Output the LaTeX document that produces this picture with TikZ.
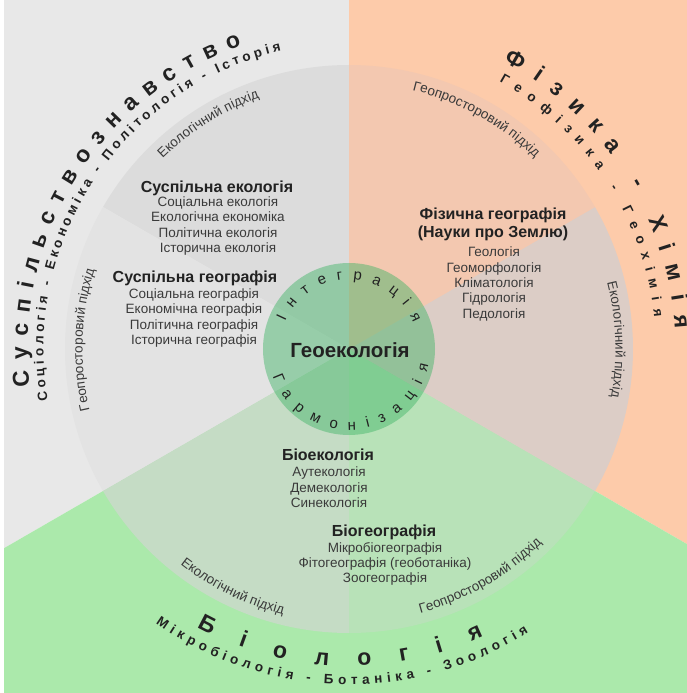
\documentclass[tikz,border=0pt]{standalone}
\usepackage{fontspec}
\setmainfont{Liberation Sans}
\usetikzlibrary{calc, positioning, decorations.text}

\definecolor{socgray}{HTML}{E8E8E8}
\definecolor{physpeach}{HTML}{FDCBAA}
\definecolor{biogreen}{HTML}{ABE9AB}
\definecolor{discA}{HTML}{DCDCDC}
\definecolor{discB}{HTML}{E3E3E3}
\definecolor{discC}{HTML}{C5DCC5}
\definecolor{discD}{HTML}{B8E2B8}
\definecolor{discE}{HTML}{DCCDC6}
\definecolor{discF}{HTML}{F3C8B0}
\definecolor{geogreen}{HTML}{3CB464}
\definecolor{txtdark}{HTML}{222222}
\definecolor{txtsub}{HTML}{3A3A3A}

\newcommand{\outerbig}{\fontsize{23}{27}\selectfont\bfseries}
\newcommand{\outersmall}{\fontsize{13.5}{16}\selectfont\bfseries}
\newcommand{\approachtxt}{\fontsize{13.5}{16}\selectfont}
\newcommand{\ringtxt}{\fontsize{15}{18}\selectfont}

\begin{document}
\begin{tikzpicture}[x=1pt, y=1pt,
  heading/.style={font=\fontsize{16}{19}\selectfont\bfseries, text=txtdark, inner sep=0pt},
  items/.style={font=\fontsize{13.5}{15.4}\selectfont, text=txtsub, align=center, inner sep=0pt}]
\useasboundingbox (-349,-344) rectangle (338,349);

% Three outer fields (120 degrees each)
\fill[socgray] (0,0) -- (0,349) -- (-349,349) -- (-349,-201.5) -- cycle;
\fill[physpeach] (0,0) -- (0,349) -- (338,349) -- (338,-195.1) -- cycle;
\fill[biogreen] (0,0) -- (-349,-201.5) -- (-349,-344) -- (338,-344) -- (338,-195.1) -- cycle;
\fill[white] (-349,-344) rectangle (-345,349);

% Approach disc, six parts
\fill[discA] (0,0) -- (90:284pt) arc[start angle=90, end angle=150, radius=284pt] -- cycle;
\fill[discB] (0,0) -- (150:284pt) arc[start angle=150, end angle=210, radius=284pt] -- cycle;
\fill[discC] (0,0) -- (210:284pt) arc[start angle=210, end angle=270, radius=284pt] -- cycle;
\fill[discD] (0,0) -- (270:284pt) arc[start angle=270, end angle=330, radius=284pt] -- cycle;
\fill[discE] (0,0) -- (330:284pt) arc[start angle=330, end angle=390, radius=284pt] -- cycle;
\fill[discF] (0,0) -- (30:284pt) arc[start angle=30, end angle=90, radius=284pt] -- cycle;

% Centre circle
\fill[geogreen, fill opacity=0.45] (0,0) circle[radius=86pt];

% Outer field titles
\path[decorate, decoration={text along path, text align={fit to path}, text color=txtdark,
  text={|\outerbig|Суспільствознавство}}]
  (186.7:321.5pt) arc[start angle=186.7, end angle=109.5, radius=321.5pt];
\path[decorate, decoration={text along path, text align={fit to path}, text color=txtdark,
  text={|\outersmall|Соціологія - Економіка - Політологія - Історія}}]
  (189.8:305.5pt) arc[start angle=189.8, end angle=102.9, radius=305.5pt];
\path[decorate, decoration={text along path, text align={fit to path}, text color=txtdark,
  text={|\outerbig|Фізика - Хімія}}]
  (61.7:326.5pt) arc[start angle=61.7, end angle=3.6, radius=326.5pt];
\path[decorate, decoration={text along path, text align={fit to path}, text color=txtdark,
  text={|\outersmall|Геофізика - Геохімія}}]
  (60.7:307pt) arc[start angle=60.7, end angle=5.9, radius=307pt];
\path[decorate, decoration={text along path, text align={fit to path}, text color=txtdark,
  text={|\outerbig|Біологія}}]
  (241.3:317pt) arc[start angle=241.3, end angle=295.1, radius=317pt];
\path[decorate, decoration={text along path, text align={fit to path}, text color=txtdark,
  text={|\outersmall|Мікробіологія - Ботаніка - Зоологія}}]
  (234.8:335.5pt) arc[start angle=234.8, end angle=302.3, radius=335.5pt];

% Approaches along the disc rim
\path[decorate, decoration={text along path, text align=center, text color=txtsub,
  text={|\approachtxt|Екологічний підхід}}]
  (162:266.5pt) arc[start angle=162, end angle=82, radius=266.5pt];
\path[decorate, decoration={text along path, text align=center, text color=txtsub,
  text={|\approachtxt|Геопросторовий підхід}}]
  (101:266.5pt) arc[start angle=101, end angle=21, radius=266.5pt];
\path[decorate, decoration={text along path, text align=center, text color=txtsub,
  text={|\approachtxt|Екологічний підхід}}]
  (42:266.5pt) arc[start angle=42, end angle=-38, radius=266.5pt];
\path[decorate, decoration={text along path, text align=center, text color=txtsub,
  text={|\approachtxt|Геопросторовий підхід}}]
  (218:266.5pt) arc[start angle=218, end angle=138, radius=266.5pt];
\path[decorate, decoration={text along path, text align=center, text color=txtsub,
  text={|\approachtxt|Екологічний підхід}}]
  (204:273.5pt) arc[start angle=204, end angle=284, radius=273.5pt];
\path[decorate, decoration={text along path, text align=center, text color=txtsub,
  text={|\approachtxt|Геопросторовий підхід}}]
  (260:273.5pt) arc[start angle=260, end angle=340, radius=273.5pt];

% Ring words in the centre circle
\path[decorate, decoration={text along path, text align={fit to path}, text color=txtdark,
  text={|\ringtxt|Інтеграція}}]
  (156.5:69.5pt) arc[start angle=156.5, end angle=22.4, radius=69.5pt];
\path[decorate, decoration={text along path, text align={fit to path}, text color=txtdark,
  text={|\ringtxt|Гармонізація}}]
  (199.7:81pt) arc[start angle=199.7, end angle=349, radius=81pt];

% Blocks of disciplines
\node[heading] (socecolhead) at (-132,161) {Суспільна екологія};
\node[items] (socecollist) at (-131,123) {Соціальна екологія\\Екологічна економіка\\Політична екологія\\Історична екологія};
\node[heading] (socgeohead) at (-154,71) {Суспільна географія};
\node[items] (socgeolist) at (-155,31) {Соціальна географія\\Економічна географія\\Політична географія\\Історична географія};
\node[heading] (physgeohead) at (144,134) {Фізична географія};
\node[heading] (earthhead) at (144,116) {(Науки про Землю)};
\node[items] (physgeolist) at (145,65) {Геологія\\Геоморфологія\\Кліматологія\\Гідрологія\\Педологія};
\node[heading] (bioecohead) at (-21,-106) {Біоекологія};
\node[items] (bioecolist) at (-20,-138.5) {Аутекологія\\Демекологія\\Синекологія};
\node[heading] (biogeohead) at (35,-183) {Біогеографія};
\node[items] (biogeolist) at (36,-215) {Мікробіогеографія\\Фітогеографія (геоботаніка)\\Зоогеографія};
\node[font=\fontsize{20.5}{24}\selectfont\bfseries, text=txtdark, inner sep=0pt] (geoeco) at (1,-1) {Геоекологія};
\end{tikzpicture}
\end{document}
